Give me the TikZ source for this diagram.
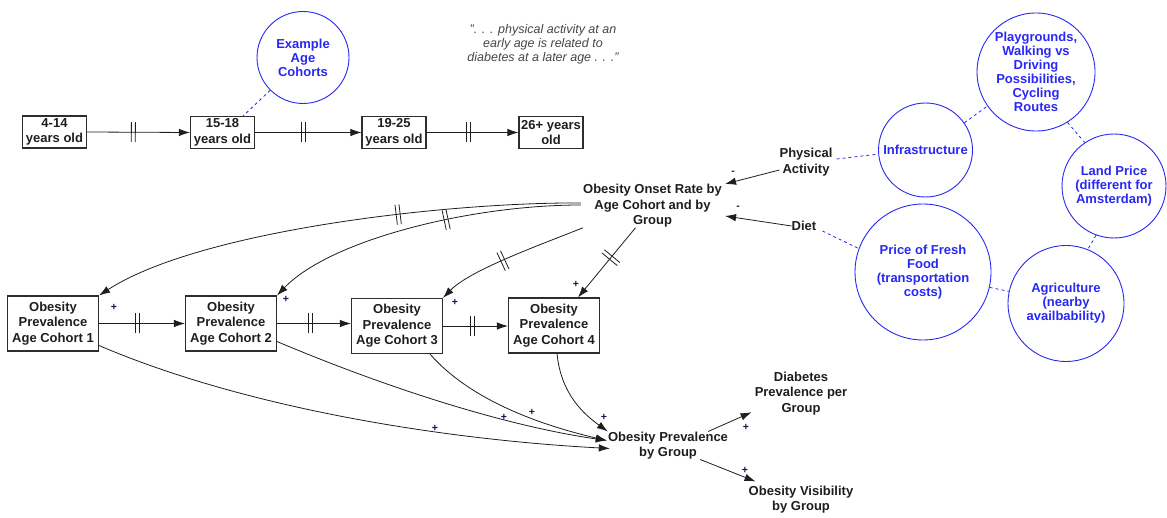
\documentclass[tikz,border=0pt]{standalone}
\usepackage{fontspec}
\setmainfont{Liberation Sans}
\usetikzlibrary{arrows.meta,decorations.markings,calc}
\definecolor{ink}{RGB}{30,30,30}
\definecolor{boxline}{RGB}{45,45,45}
\definecolor{noteblue}{RGB}{40,40,245}
\definecolor{quotegray}{RGB}{70,70,70}
\definecolor{polnavy}{RGB}{20,20,80}
\begin{document}
\begin{tikzpicture}[x=1pt,y=-1pt,
  txt/.style={font=\fontsize{13}{15.5}\selectfont\bfseries, text=ink, align=center, inner sep=0pt},
  agebox/.style={txt, draw=boxline, line width=1.1pt, minimum width=64pt, minimum height=32pt},
  cohort/.style={txt, draw=boxline, line width=1.1pt, minimum width=91pt, minimum height=55pt},
  note/.style={circle, draw=noteblue, line width=0.9pt, text=noteblue,
    font=\fontsize{13}{14}\selectfont\bfseries, align=center, inner sep=0pt, minimum size=#1},
  link/.style={draw=noteblue, dash pattern=on 3pt off 3pt, line width=0.8pt},
  arr/.style={draw=ink, line width=0.8pt, -{Latex[length=11pt,width=7.5pt]}},
  dly/.style={postaction={decorate, decoration={markings, mark=at position #1 with
    {\draw[solid,-,line width=0.8pt,draw=ink] (-2pt,-10pt)--(-2pt,10pt) (2pt,-10pt)--(2pt,10pt);}}}},
  pol/.style={font=\fontsize{10.5}{10.5}\selectfont\bfseries, text=polnavy, inner sep=0pt}
]
\useasboundingbox (0,0) rectangle (1167,518);

% age cohort chain
\node[agebox] (a1) at (54.5,132) {4-14\\years old};
\node[agebox] (a2) at (222.5,132.5) {15-18\\years old};
\node[agebox] (a3) at (394,132.5) {19-25\\years old};
\node[agebox] (a4) at (551,132.5) {26+ years\\old};
\draw[arr, dly=0.45] (a1.east) -- (a2.west);
\draw[arr, dly=0.45] (a2.east) -- (a3.west);
\draw[arr, dly=0.45] (a3.east) -- (a4.west);

\node[note=92pt] (ex) at (303,57.5) {Example\\Age\\Cohorts};
\draw[link] (ex.225) -- ($(a2.north east)+(-12,0)$);

\node[font=\fontsize{12.5}{14}\selectfont\itshape, text=quotegray, align=center, inner sep=0pt]
  (quote) at (543,44) {". . . physical activity at an\\early age is related to\\diabetes at a later age . . ."};

% onset rate and its drivers
\node[txt] (onset) at (652.5,206) {Obesity Onset Rate by\\Age Cohort and by\\Group};
\node[txt] (pa) at (806,162) {Physical\\Activity};
\node[txt] (diet) at (804,226) {Diet};
\draw[arr] ($(pa.west)+(0,8)$) -- ($(onset.east)+(3,-22)$);
\draw[arr] (diet.west) -- ($(onset.east)+(3,10)$);
\node[pol] (m1) at (733,173) {-};
\node[pol] (m2) at (738,208) {-};

% context circles
\node[note=118pt] (play) at (1036,72) {Playgrounds,\\Walking vs\\Driving\\Possibilities,\\Cycling\\Routes};
\node[note=94pt] (infra) at (925.5,150) {Infrastructure};
\node[note=104pt] (land) at (1114,186) {Land Price\\(different for\\Amsterdam)};
\node[note=136pt] (food) at (923,272) {Price of Fresh\\Food\\(transportation\\costs)};
\node[note=116pt] (agri) at (1066,303.5) {Agriculture\\(nearby\\availbability)};
\draw[link] ($(pa.east)+(4,-3)$) -- (infra.185);
\draw[link] (infra.35) -- (play.215);
\draw[link] (play.302) -- (land.124);
\draw[link] (land.250) -- (agri.68);
\draw[link] (food.347) -- (agri.168);
\draw[link] ($(diet.east)+(6,5)$) -- (food.160);

% prevalence cohorts
\node[cohort] (c1) at (53,323.5) {Obesity\\Prevalence\\Age Cohort 1};
\node[cohort] (c2) at (231,323.5) {Obesity\\Prevalence\\Age Cohort 2};
\node[cohort] (c3) at (397,326) {Obesity\\Prevalence\\Age Cohort 3};
\node[cohort] (c4) at (554,325.5) {Obesity\\Prevalence\\Age Cohort 4};
\draw[arr, dly=0.45] (c1.east) -- (c2.west);
\draw[arr, dly=0.45] (c2.east) -- (c2.east -| c3.west);
\draw[arr, dly=0.45] (c3.east) -- (c3.east -| c4.west);

% onset into each cohort
\draw[arr, dly=0.37] ($(onset.west)+(-2,-3)$) .. controls (450,202) and (200,230) .. (c1.north east);
\draw[arr, dly=0.42] ($(onset.west)+(-2,-1)$) .. controls (470,205) and (330,240) .. (c2.north east);
\draw[arr, dly=0.55] (onset.south west) .. controls (540,245) and (470,270) .. (c3.north east);
\draw[arr, dly=0.43] ($(onset.south)+(-17,0)$) -- ($(c4.north)+(24,0)$);
\node[pol] (p1) at (114,307) {+};
\node[pol] (p2) at (286,299) {+};
\node[pol] (p3) at (455,302) {+};
\node[pol] (p4) at (576,284) {+};

% aggregate prevalence and consequences
\node[txt] (opg) at (668,445.5) {Obesity Prevalence\\by Group};
\node[txt] (diab) at (801,393.5) {Diabetes\\Prevalence per\\Group};
\node[txt] (vis) at (801,499.5) {Obesity Visibility\\by Group};

\draw[arr] ($(c1.south east)+(0,-6)$) .. controls (250,410) and (450,440) .. ($(opg.west)+(2,3)$);
\draw[arr] ($(c2.south east)+(0,-10)$) .. controls (380,385) and (500,425) .. ($(opg.west)+(-1,-5)$);
\draw[arr] ($(c3.south)+(33,0)$) .. controls (470,400) and (540,425) .. ($(opg.west)+(-1,-5)$);
\draw[arr] ($(c4.south)+(3,0)$) .. controls (561,395) and (585,415) .. (opg.north west);
\node[pol] (p5) at (435,428) {+};
\node[pol] (p6) at (504,417) {+};
\node[pol] (p7) at (532,412) {+};
\node[pol] (p8) at (604,417) {+};

\draw[arr] ($(opg.north east)+(-20,0)$) -- ($(diab.south west)+(-3,-3)$);
\draw[arr] ($(opg.south east)+(-28,0)$) -- ($(vis.north west)+(7,-4)$);
\node[pol] (p9) at (746,427) {+};
\node[pol] (p10) at (745,470) {+};
\end{tikzpicture}
\end{document}
